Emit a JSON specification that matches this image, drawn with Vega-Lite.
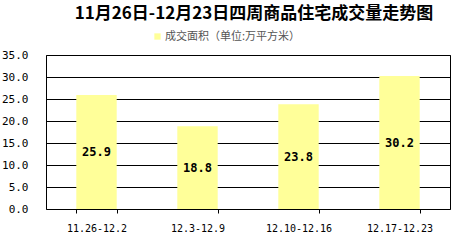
{
  "$schema": "https://vega.github.io/schema/vega-lite/v6.json",
  "width": 404,
  "height": 154,
  "autosize": "none",
  "padding": {"left": 46, "top": 55, "right": 4, "bottom": 35},
  "background": "white",
  "title": {
    "text": "11月26日-12月23日四周商品住宅成交量走势图",
    "font": "Noto Sans CJK SC",
    "fontSize": 17,
    "fontWeight": "bold",
    "color": "#000000",
    "anchor": "middle",
    "dx": 6,
    "offset": 8
  },
  "data": {
    "values": [
      {"week": "11.26-12.2", "area": 25.9, "series": "成交面积（单位:万平方米）"},
      {"week": "12.3-12.9", "area": 18.8, "series": "成交面积（单位:万平方米）"},
      {"week": "12.10-12.16", "area": 23.8, "series": "成交面积（单位:万平方米）"},
      {"week": "12.17-12.23", "area": 30.2, "series": "成交面积（单位:万平方米）"}
    ]
  },
  "config": {
    "view": {"stroke": "#000000", "strokeWidth": 1},
    "axis": {"labelFont": "DejaVu Sans Mono", "labelFontSize": 10, "labelColor": "#000000"}
  },
  "encoding": {
    "x": {
      "field": "week",
      "type": "nominal",
      "sort": null,
      "scale": {"paddingInner": 0.6, "paddingOuter": 0.3},
      "axis": {
        "title": null,
        "labelAngle": 0,
        "domain": false,
        "ticks": true,
        "tickBand": "extent",
        "tickColor": "#000000",
        "tickSize": 4,
        "labelPadding": 10,
        "grid": false
      }
    }
  },
  "layer": [
    {
      "mark": {"type": "bar"},
      "encoding": {
        "y": {
          "field": "area",
          "type": "quantitative",
          "scale": {"domain": [0, 35], "nice": false},
          "axis": {
            "title": null,
            "values": [0, 5, 10, 15, 20, 25, 30, 35],
            "format": ".1f",
            "domain": false,
            "ticks": false,
            "labelPadding": 18,
            "labelFontSize": 11,
            "grid": true,
            "gridColor": "#000000",
            "gridOpacity": 1,
            "gridWidth": 1
          }
        },
        "color": {
          "field": "series",
          "type": "nominal",
          "scale": {"range": ["#FFFF99"]},
          "legend": {
            "title": null,
            "orient": "none",
            "legendX": 106,
            "legendY": -24,
            "symbolType": "square",
            "symbolSize": 40,
            "labelFont": "Noto Sans CJK SC",
            "labelFontSize": 11,
            "labelColor": "#555555",
            "labelOffset": 2
          }
        }
      }
    },
    {
      "mark": {"type": "text", "font": "DejaVu Sans Mono", "fontSize": 12, "fontWeight": "bold", "color": "#000000", "baseline": "middle"},
      "encoding": {
        "y": {
          "field": "area",
          "type": "quantitative",
          "scale": {"domain": [0, 70], "nice": false},
          "axis": null
        },
        "text": {"field": "area", "type": "quantitative", "format": ".1f"}
      }
    }
  ],
  "resolve": {"scale": {"y": "independent"}}
}
